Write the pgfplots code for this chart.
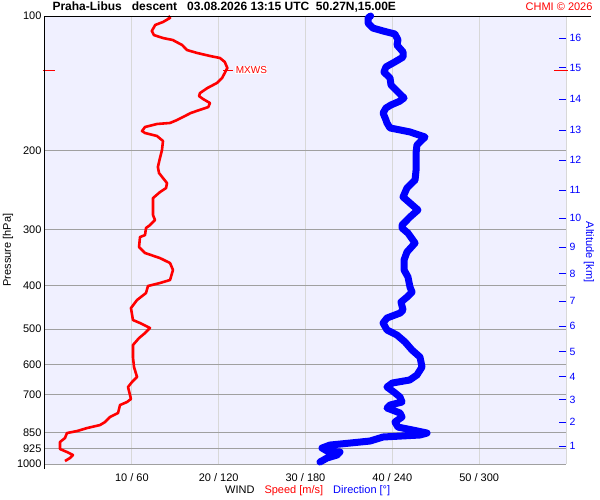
\documentclass[border=0pt]{standalone}
\usepackage{pgfplots}
\pgfplotsset{compat=1.18}
\usepackage{pgfplotstable}
\usepackage{fontspec}
\setmainfont{Liberation Sans}
\definecolor{bgplot}{RGB}{240,240,255}
\definecolor{hgrid}{RGB}{160,160,160}
\definecolor{vgrid}{RGB}{216,216,216}
\pgfplotstableread{
p s
100 14.2
101 14.4
103.1 13.6
104.7 12.7
108 12.3
110.3 12.55
112 13.6
113.1 14.7
116.1 15.8
119.1 16.35
120.9 17.5
122.8 19.0
124.1 20.15
126.6 20.7
130.6 21.0
134 20.7
137.5 20.4
141.1 19.8
144.8 18.7
148.6 17.85
150.9 17.74
153.2 18.2
156.4 19.0
159.7 18.8
162.1 17.8
164.6 16.8
166.3 16.35
170.7 15.2
173.3 14.4
174.2 12.9
176.9 11.52
180.6 11.17
182.5 11.52
185.3 12.9
190.1 13.59
199.2 13.47
207.5 13.24
217.3 13.0
224.1 13.13
230 13.59
236 14.05
242.1 13.94
247.2 13.24
254.9 12.44
267 12.44
278.2 12.44
285.4 12.67
292.9 12.09
297.4 11.63
308.3 11.52
311.5 10.94
327.9 10.83
338.1 11.52
347 13.24
356 14.4
368.9 14.74
388.4 14.4
394.5 13.24
400.6 11.86
415.3 11.63
430.5 10.6
448.6 9.9
477.1 10.13
484.5 10.94
497.1 12.09
510.1 11.52
523.4 10.83
542.6 10.13
577.1 10.13
607.5 10.25
639.4 10.6
656.1 10.02
673.2 9.56
701.5 9.79
716.1 9.9
727.2 9.44
738.6 8.64
769.6 8.41
785.5 7.49
806 6.91
818.6 6.33
831.3 4.84
844.2 3.69
852.9 2.53
875 2.3
893.1 1.73
925.9 1.73
940.2 2.53
954.8 3.22
969.6 2.88
984.7 2.3
}\speed
\pgfplotstableread{
p d
100 225
101 223.2
103.7 223.2
106.4 226.6
108 233.6
109.7 241.8
113.1 243.9
116.1 243.2
120.3 247.4
123.5 247.4
126.6 241.8
129.9 235.6
133.4 234.2
137.5 238.4
142.6 239.1
147.8 243.9
152.4 248.1
155 245
158 239
160.5 235.6
164.6 233.6
170.7 235.6
173.3 236.3
177.8 238.4
181.5 252.2
186.3 262.6
194.1 257.0
202.3 256.4
220.7 256.4
232.3 255.7
242.1 250.1
253.5 247.4
261.5 252.2
271 257.7
281 252.2
292.9 246.7
297.4 246.7
305.2 250.8
321.2 255.7
336.4 250.1
350.5 248.1
368.9 248.1
382.4 250.8
402.7 252.2
413.2 253.6
424.1 250.1
435 246.0
453.3 247.4
460.3 245.3
472.2 236.3
484.5 233.6
502.1 236.3
515.4 243.2
534.2 248.8
556.6 253.6
577.1 259.1
607.5 260.5
632.9 257.0
649.4 252
659.5 240
673.2 236.3
690.7 241
708.7 245.3
727.2 246.7
738.6 238.4
749.9 236.3
769.6 245.3
785.5 246.7
806 241.8
827.1 243.9
840 254.3
852.9 264.0
861.5 259.1
870.4 233.6
888.6 224.6
897.9 210.7
907.2 196.9
921.1 191.4
935.4 194.9
940.2 203.8
954.8 201.8
969.6 194.9
989.7 190.0
}\direction
\begin{document}
\begin{tikzpicture}
\useasboundingbox[fill=white] (0,0) rectangle (600bp,500bp);
\begin{axis}[
  at={(45bp,36bp)}, anchor=south west,
  scale only axis, width=521bp, height=448bp,
  xmin=0, xmax=60,
  ymode=log, ymin=100, ymax=1000, y dir=reverse,
  clip=false,
  axis background/.style={fill=bgplot},
  axis line style={draw=none},
  xtick={10,20,30,40,50,60},
  xticklabels={10 / 60,20 / 120,30 / 180,40 / 240,50 / 300,{}},
  ytick={100,200,300,400,500,600,700,850,925,1000},
  yticklabels={100,200,300,400,500,600,700,850,925,1000},
  yminorticks=false, xminorticks=false,
  major tick length=0pt,
  xmajorgrids, ymajorgrids,
  x grid style={vgrid, line width=1bp},
  y grid style={hgrid, line width=1bp},
  ticklabel style={font=\fontsize{11bp}{13bp}\selectfont},
  xticklabel style={yshift=-6bp},
  /pgf/number format/assume math mode=true,
]
\addplot[red, line width=2.6bp, line join=round] table[x=s, y=p] {\speed};
% MXWS markers
\addplot[red, line width=1bp] coordinates {(20.5,132) (21.7,132)};
\addplot[red, line width=1bp] coordinates {(-0.25,132) (1.2,132)};
\addplot[red, line width=1bp] coordinates {(58.6,132) (60.2,132)};
\node[anchor=west, fill=white, inner sep=0.5bp, text=red, font=\fontsize{10bp}{12bp}\selectfont] at (axis cs:21.9,132) {MXWS};
\draw[black, line width=1bp] (axis description cs:0,-0.011) -- (axis description cs:0,1) -- (axis description cs:1.048,1);
\end{axis}
\begin{axis}[
  at={(45bp,36bp)}, anchor=south west,
  scale only axis, width=521bp, height=448bp,
  xmin=0, xmax=360,
  ymode=log, ymin=100, ymax=1000, y dir=reverse,
  clip=false,
  axis line style={draw=none},
  xtick=\empty,
  ytick={112.0,130.6,153.2,179.7,209.7,244.6,282.4,327.9,376.6,432.7,492.0,562.3,639.4,719.6,805.9,911.9},
  yticklabels={16,15,14,13,12,11,10,9,8,7,6,5,4,3,2,1},
  ytick pos=right, yticklabel pos=right,
  yminorticks=false,
  tick align=inside,
  major tick length=7bp,
  ytick style={blue, line width=1bp},
  yticklabel style={text=blue, font=\fontsize{10.5bp}{12bp}\selectfont},
  /pgf/number format/assume math mode=true,
]
\addplot[blue, line width=7bp, line join=round, line cap=round] table[x=d, y=p] {\direction};
\end{axis}
\node[anchor=west, font=\bfseries\fontsize{12bp}{14bp}\selectfont] at (49bp,493bp) {Praha-Libus\ \ \ descent\ \ \ 03.08.2026 13:15 UTC\ \ 50.27N,15.00E};
\node[anchor=east, text=red, font=\fontsize{11bp}{13bp}\selectfont] at (596bp,493bp) {CHMI © 2026};
\node[rotate=90, font=\fontsize{11bp}{13bp}\selectfont] at (8bp,250bp) {Pressure [hPa]};
\node[rotate=-90, text=blue, font=\fontsize{11bp}{13bp}\selectfont] at (589bp,248bp) {Altitude [km]};
\node[anchor=west, font=\fontsize{11bp}{13bp}\selectfont, inner sep=0pt] at (225bp,9bp) {WIND\hspace{10bp}\textcolor{red}{Speed [m/s]}\hspace{10bp}\textcolor{blue}{Direction [°]}};
\end{tikzpicture}
\end{document}
